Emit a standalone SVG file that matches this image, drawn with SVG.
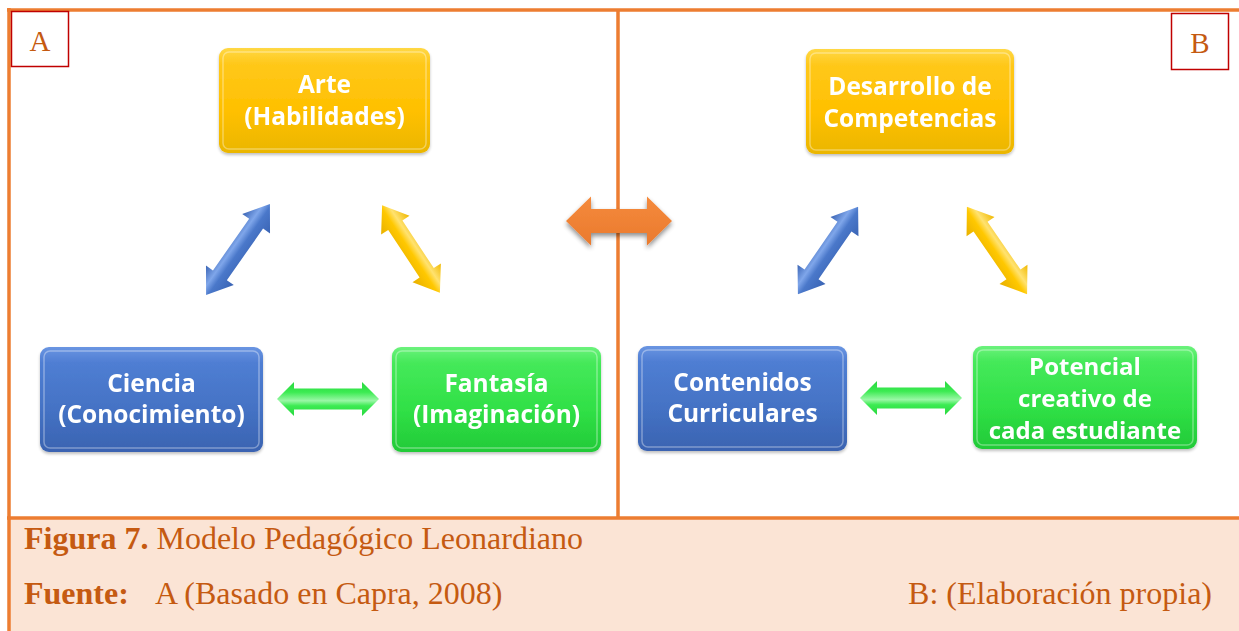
<svg xmlns="http://www.w3.org/2000/svg" width="1239" height="631" viewBox="0 0 1239 631">
<defs>
<linearGradient id="gY" x1="0" y1="0" x2="0" y2="1"><stop offset="0" stop-color="#FFD845"/><stop offset="0.15" stop-color="#FFC81A"/><stop offset="0.6" stop-color="#FFC000"/><stop offset="1" stop-color="#EAB600"/></linearGradient>
<linearGradient id="gB" x1="0" y1="0" x2="0" y2="1"><stop offset="0" stop-color="#6A95E2"/><stop offset="0.15" stop-color="#4F7ED3"/><stop offset="0.6" stop-color="#4472C4"/><stop offset="1" stop-color="#3A63B1"/></linearGradient>
<linearGradient id="gG" x1="0" y1="0" x2="0" y2="1"><stop offset="0" stop-color="#6CF27C"/><stop offset="0.15" stop-color="#45E95A"/><stop offset="0.6" stop-color="#30E046"/><stop offset="1" stop-color="#22CA38"/></linearGradient>
<linearGradient id="aB" x1="0" y1="0" x2="0" y2="1"><stop offset="0" stop-color="#3A64B4"/><stop offset="0.35" stop-color="#7FA6EA"/><stop offset="0.55" stop-color="#4A78CA"/><stop offset="1" stop-color="#3A64B4"/></linearGradient>
<linearGradient id="aY" x1="0" y1="0" x2="0" y2="1"><stop offset="0" stop-color="#F0B800"/><stop offset="0.35" stop-color="#FFE270"/><stop offset="0.55" stop-color="#FFC800"/><stop offset="1" stop-color="#E8B000"/></linearGradient>
<linearGradient id="aG" x1="0" y1="0" x2="0" y2="1"><stop offset="0" stop-color="#28D83E"/><stop offset="0.3" stop-color="#3CEB52"/><stop offset="0.55" stop-color="#9AF7A6"/><stop offset="0.7" stop-color="#3CEB52"/><stop offset="1" stop-color="#28D83E"/></linearGradient>
<linearGradient id="aO" x1="0" y1="0" x2="0" y2="1"><stop offset="0" stop-color="#F58A3C"/><stop offset="1" stop-color="#EA7A2E"/></linearGradient>
<filter id="sh" x="-20%" y="-20%" width="140%" height="150%"><feGaussianBlur in="SourceAlpha" stdDeviation="2.5"/><feOffset dx="0" dy="3" result="b"/><feComponentTransfer><feFuncA type="linear" slope="0.45"/></feComponentTransfer><feMerge><feMergeNode/><feMergeNode in="SourceGraphic"/></feMerge></filter>
<filter id="ns" x="-10%" y="-10%" width="120%" height="125%"><feGaussianBlur in="SourceAlpha" stdDeviation="1.5"/><feOffset dx="0" dy="1.5"/><feComponentTransfer><feFuncA type="linear" slope="0.25"/></feComponentTransfer><feMerge><feMergeNode/><feMergeNode in="SourceGraphic"/></feMerge></filter>
</defs>
<style>
.frame{stroke:#ED7D31;stroke-width:3.5;fill:none}
.lbl{fill:none;stroke:#C00000;stroke-width:1.5}
.lt{font-family:"Liberation Serif","Times New Roman",serif;font-size:29px;fill:#C55A11;text-anchor:middle}
.nt{font-family:"Open Sans","Liberation Sans",sans-serif;font-weight:700;font-size:24.5px;fill:#FFFFFF;text-anchor:middle}
.hl{fill:none;stroke:#FFFFFF;stroke-opacity:0.35;stroke-width:1.5}
.cap{font-family:"Liberation Serif","Times New Roman",serif;font-size:32px;fill:#C55A11}
.b{font-weight:700}
</style>
<rect x="0" y="0" width="1239" height="631" fill="#FFFFFF"/>
<rect x="9" y="518" width="1230" height="113" fill="#FBE4D5"/>
<g id="frame">
<line class="frame" x1="7" y1="10" x2="1239" y2="10"/>
<line class="frame" x1="9" y1="8" x2="9" y2="631"/>
<line class="frame" x1="618" y1="10" x2="618" y2="518"/>
<line class="frame" x1="7" y1="518" x2="1239" y2="518"/>
</g>
<g id="label-A"><rect class="lbl" x="11.5" y="11.5" width="57" height="55"/><text class="lt" x="40" y="51">A</text></g>
<g id="label-B"><rect class="lbl" x="1171.5" y="13.5" width="57" height="56"/><text class="lt" x="1200" y="53">B</text></g>
<g id="connectors">
<path filter="url(#sh)" fill="url(#aO)" d="M-53,0 L-28,-24.5 L-28,-12 L28,-12 L28,-24.5 L53,0 L28,24.5 L28,12 L-28,12 L-28,24.5 Z" transform="translate(619,221)"/>
<path fill="url(#aB)" d="M-55.5,0 L-31.5,-17 L-31.5,-8.5 L31.5,-8.5 L31.5,-17 L55.5,0 L31.5,17 L31.5,8.5 L-31.5,8.5 L-31.5,17 Z" transform="translate(238,249.5) rotate(-54.9)"/>
<path fill="url(#aY)" d="M-52.5,0 L-28.5,-17 L-28.5,-8.5 L28.5,-8.5 L28.5,-17 L52.5,0 L28.5,17 L28.5,8.5 L-28.5,8.5 L-28.5,17 Z" transform="translate(411,249) rotate(56.6)"/>
<path fill="url(#aG)" d="M-51,0 L-34,-17 L-34,-10.5 L34,-10.5 L34,-17 L51,0 L34,17 L34,10.5 L-34,10.5 L-34,17 Z" transform="translate(328,399)"/>
<path fill="url(#aB)" d="M-53,0 L-29,-17 L-29,-8.5 L29,-8.5 L29,-17 L53,0 L29,17 L29,8.5 L-29,8.5 L-29,17 Z" transform="translate(828,250.5) rotate(-55.4)"/>
<path fill="url(#aY)" d="M-53,0 L-29,-17 L-29,-8.5 L29,-8.5 L29,-17 L53,0 L29,17 L29,8.5 L-29,8.5 L-29,17 Z" transform="translate(997,250.5) rotate(55.4)"/>
<path fill="url(#aG)" d="M-51,0 L-34,-17 L-34,-10.5 L34,-10.5 L34,-17 L51,0 L34,17 L34,10.5 L-34,10.5 L-34,17 Z" transform="translate(911,398)"/>
</g>
<g id="node-arte" filter="url(#ns)"><rect x="219" y="48" width="211" height="105" rx="9" fill="url(#gY)"/><rect class="hl" x="223" y="52" width="203" height="97" rx="6"/><text class="nt" x="324.5" y="93">Arte</text><text class="nt" x="324.5" y="125">(Habilidades)</text></g>
<g id="node-ciencia" filter="url(#ns)"><rect x="40" y="347" width="223" height="105" rx="9" fill="url(#gB)"/><rect class="hl" x="44" y="351" width="215" height="97" rx="6"/><text class="nt" x="151.5" y="392">Ciencia</text><text class="nt" x="151.5" y="423">(Conocimiento)</text></g>
<g id="node-fantasia" filter="url(#ns)"><rect x="392" y="347" width="209" height="105" rx="9" fill="url(#gG)"/><rect class="hl" x="396" y="351" width="201" height="97" rx="6"/><text class="nt" x="496.5" y="392">Fantasía</text><text class="nt" x="496.5" y="423">(Imaginación)</text></g>
<g id="node-desarrollo" filter="url(#ns)"><rect x="806" y="49" width="208" height="105" rx="9" fill="url(#gY)"/><rect class="hl" x="810" y="53" width="200" height="97" rx="6"/><text class="nt" x="910" y="95">Desarrollo de</text><text class="nt" x="910" y="127">Competencias</text></g>
<g id="node-contenidos" filter="url(#ns)"><rect x="638" y="346" width="209" height="105" rx="9" fill="url(#gB)"/><rect class="hl" x="642" y="350" width="201" height="97" rx="6"/><text class="nt" x="742.5" y="391">Contenidos</text><text class="nt" x="742.5" y="422">Curriculares</text></g>
<g id="node-potencial" filter="url(#ns)"><rect x="973" y="346" width="224" height="103" rx="9" fill="url(#gG)"/><rect class="hl" x="977" y="350" width="216" height="95" rx="6"/><text class="nt" x="1085" y="375" style="font-size:24px">Potencial</text><text class="nt" x="1085" y="407" style="font-size:24px">creativo de</text><text class="nt" x="1085" y="439" style="font-size:24px">cada estudiante</text></g>
<g id="caption">
<text class="cap" x="24" y="549"><tspan class="b">Figura 7.</tspan> Modelo Pedagógico Leonardiano</text>
<text class="cap" x="24" y="604"><tspan class="b">Fuente:</tspan></text>
<text class="cap" x="155" y="604">A (Basado en Capra, 2008)</text>
<text class="cap" x="1212" y="604" text-anchor="end">B: (Elaboración propia)</text>
</g>
</svg>
